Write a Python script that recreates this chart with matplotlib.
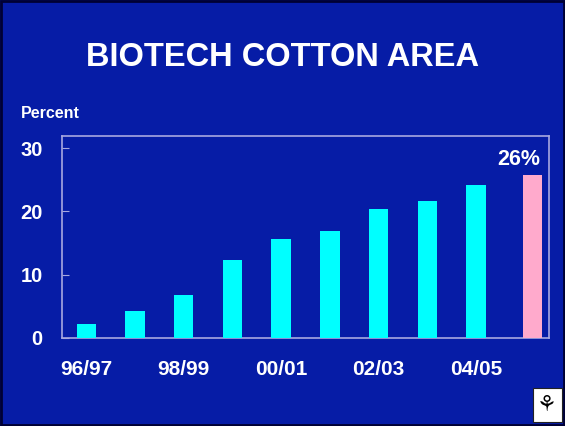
import matplotlib.pyplot as plt
from matplotlib.patches import Rectangle
import numpy as np

# data
seasons = ["96/97", "97/98", "98/99", "99/00", "00/01", "01/02", "02/03", "03/04", "04/05", "05/06"]
share = [2.2, 4.3, 6.8, 12.3, 15.7, 16.9, 20.4, 21.6, 24.2, 25.7]
tick_labels = ["96/97", "98/99", "00/01", "02/03", "04/05"]
last_label = "26%"

bg = "#061ca6"
frame = "#a8a8e0"

plt.rcParams["font.family"] = ["Liberation Sans", "DejaVu Sans"]
fig = plt.figure(figsize=(5.65, 4.26), dpi=100, facecolor=bg)
ax = fig.add_axes([0.1097, 0.2066, 0.862, 0.474], facecolor=bg)

# last season is a projection, drawn a little apart from the rest
x = np.arange(len(share), dtype=float)
x[-1] += 0.16
colors = ["#00ffff"] * (len(share) - 1) + ["#ffaacc"]
ax.bar(x, share, width=0.4, color=colors, zorder=3)

ax.annotate(last_label, (x[-1], share[-1]), xytext=(-10, 4), textcoords="offset points",
            ha="center", va="bottom", color="white", fontsize=15.5, fontweight="bold")

ax.set_xlim(-0.5, 9.5)
ax.set_ylim(0, 31.9)
ax.set_yticks([0, 10, 20, 30])
ax.set_xticks([seasons.index(s) for s in tick_labels])
ax.set_xticklabels(tick_labels)
ax.tick_params(axis="y", direction="in", length=5, color=frame, labelcolor="white",
               labelsize=14.5, pad=14)
ax.tick_params(axis="x", length=0, labelcolor="white", labelsize=15, pad=16)
for lab in ax.get_xticklabels() + ax.get_yticklabels():
    lab.set_fontweight("bold")
for sp in ax.spines.values():
    sp.set_color(frame)
    sp.set_linewidth(1.2)

fig.text(0.5, 0.866, "BIOTECH COTTON AREA", ha="center", va="center",
         color="white", fontsize=23.5, fontweight="bold")
fig.text(0.037, 0.733, "Percent", ha="left", va="center", color="white",
         fontsize=11.5, fontweight="bold")

# thin dark border round the slide
fig.patches.append(Rectangle((0.002, 0.003), 0.996, 0.994, transform=fig.transFigure,
                             fill=False, edgecolor="#000033", linewidth=2))
# small logo box, bottom right
fig.patches.append(Rectangle((533 / 565, 4 / 426), 29 / 565, 34 / 426, transform=fig.transFigure,
                             facecolor="white", edgecolor="#222222", linewidth=0.8))
fig.text(547 / 565, 21 / 426, "\u2698", ha="center", va="center", fontsize=16, color="black",
         family="DejaVu Sans")

fig.savefig("out.png", dpi=100, facecolor=bg)
